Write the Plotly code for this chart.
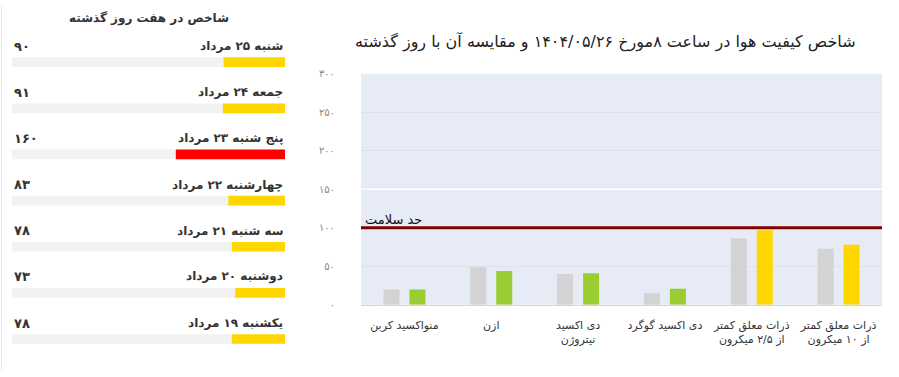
import plotly.graph_objects as go

W, H = 899, 377


def fa(n):
    """Write a number with Persian digits."""
    return str(n).translate(str.maketrans("0123456789", "۰۱۲۳۴۵۶۷۸۹"))


def aqi_color(v):
    if v <= 50:
        return "#9ACD32"
    if v <= 100:
        return "#FFD700"
    if v <= 150:
        return "#FF7E00"
    if v <= 200:
        return "#FF0000"
    return "#8F3F97"


# ---------------- data: main chart ----------------
chart_title = "شاخص کیفیت هوا در ساعت ۸مورخ ۱۴۰۴/۰۵/۲۶ و مقایسه آن با روز گذشته"
pollutants = [
    "منواکسید کربن",
    "ازن",
    "دی اکسید<br>نیتروژن",
    "دی اکسید گوگرد",
    "ذرات معلق کمتر<br>از ۲/۵ میکرون",
    "ذرات معلق کمتر<br>از ۱۰ میکرون",
]
yesterday_values = [20, 49, 40, 15, 86, 73]
today_values = [20, 44, 41, 21, 97, 78]
y_tick_values = [0, 50, 100, 150, 200, 250, 300]
HEALTH_LIMIT = 100
HEALTH_LABEL = "حد سلامت"
UNHEALTHY_LINE = 150

# ---------------- data: last seven days ----------------
week_title = "شاخص در هفت روز گذشته"
week_days = [
    "شنبه ۲۵ مرداد",
    "جمعه ۲۴ مرداد",
    "پنج شنبه ۲۳ مرداد",
    "چهارشنبه ۲۲ مرداد",
    "سه شنبه ۲۱ مرداد",
    "دوشنبه ۲۰ مرداد",
    "یکشنبه ۱۹ مرداد",
]
week_values = [90, 91, 160, 83, 78, 73, 78]
WEEK_MAX = 400

FONT = "DejaVu Sans"

# ---------------- layout geometry (pixels) ----------------
px = lambda x: x / W
py = lambda y: 1 - y / H

main_x0, main_x1 = 361, 882
main_y_top, main_y_bot = 70, 308.7
cat_px = (main_x1 - main_x0) / len(pollutants)
bar_w = 16 / cat_px
half_gap = 13 / cat_px

left_x0, left_x1 = 12, 285
row_top, row_bot = 34.2, 367.8
row_px = (row_bot - row_top) / len(week_days)
left_bar_w = 10 / row_px

fig = go.Figure()

# main chart bars
fig.add_trace(go.Bar(
    x=pollutants, y=yesterday_values, name="روز گذشته",
    marker=dict(color="#D3D3D3", line=dict(width=0)),
    width=bar_w, offset=-half_gap - bar_w / 2,
    xaxis="x", yaxis="y", hoverinfo="y",
))
fig.add_trace(go.Bar(
    x=pollutants, y=today_values, name="امروز",
    marker=dict(color=[aqi_color(v) for v in today_values], line=dict(width=0)),
    width=bar_w, offset=half_gap - bar_w / 2,
    xaxis="x", yaxis="y", hoverinfo="y",
))

# seven-day panel: track + value bars
fig.add_trace(go.Bar(
    y=week_days, x=[WEEK_MAX] * len(week_days), orientation="h",
    marker=dict(color="#F2F2F2", line=dict(width=0)),
    width=left_bar_w, offset=-left_bar_w / 2,
    xaxis="x2", yaxis="y2", hoverinfo="skip",
))
fig.add_trace(go.Bar(
    y=week_days, x=week_values, orientation="h",
    marker=dict(color=[aqi_color(v) for v in week_values], line=dict(width=0)),
    width=left_bar_w, offset=-left_bar_w / 2,
    xaxis="x2", yaxis="y2", hoverinfo="x",
))

annotations = [
    dict(text=chart_title, xref="paper", yref="paper", x=px(605), y=py(37),
         xanchor="center", yanchor="middle", showarrow=False,
         font=dict(family=FONT, size=16, color="#222")),
    dict(text=HEALTH_LABEL, xref="paper", yref="y", x=px(main_x0 + 2), y=HEALTH_LIMIT,
         xanchor="left", yanchor="bottom", yshift=-1, showarrow=False,
         font=dict(family=FONT, size=13, color="#111")),
    dict(text="<b>" + week_title + "</b>", xref="paper", yref="paper", x=px(148.5), y=py(13),
         xanchor="center", yanchor="middle", showarrow=False,
         font=dict(family=FONT, size=12, color="#333")),
]
for d, v in zip(week_days, week_values):
    annotations.append(dict(text="<b>" + d + "</b>", xref="paper", yref="y2", x=px(left_x1), y=d,
                            xanchor="right", yanchor="middle", yshift=16, showarrow=False,
                            font=dict(family=FONT, size=12, color="#333")))
    annotations.append(dict(text="<b>" + fa(v) + "</b>", xref="paper", yref="y2", x=px(left_x0), y=d,
                            xanchor="left", yanchor="middle", yshift=16, showarrow=False,
                            font=dict(family=FONT, size=13, color="#333")))

shapes = [
    # main plot background (only the main chart is tinted)
    dict(type="rect", xref="x domain", yref="y domain", x0=0, x1=1, y0=0, y1=1,
         fillcolor="#E6EBF5", line=dict(width=0), layer="below"),
    dict(type="line", xref="x domain", yref="y", x0=0, x1=1, y0=UNHEALTHY_LINE, y1=UNHEALTHY_LINE,
         line=dict(color="#FFFFFF", width=1.5), layer="above"),
    dict(type="line", xref="x domain", yref="y", x0=0, x1=1, y0=HEALTH_LIMIT, y1=HEALTH_LIMIT,
         line=dict(color="#800000", width=3), layer="above"),
    dict(type="line", xref="paper", yref="paper", x0=px(1.5), x1=px(1.5), y0=0, y1=1,
         line=dict(color="#EBEBEB", width=1), layer="above"),
]

fig.update_layout(
    width=W, height=H, autosize=False,
    margin=dict(l=0, r=0, t=0, b=0, pad=0),
    paper_bgcolor="white", plot_bgcolor="rgba(0,0,0,0)",
    showlegend=False, barmode="overlay",
    font=dict(family=FONT, size=11, color="#333"),
    annotations=annotations, shapes=shapes,
    xaxis=dict(
        domain=[px(main_x0), px(main_x1)], type="category",
        categoryorder="array", categoryarray=pollutants,
        range=[-0.5, len(pollutants) - 0.5],
        showgrid=False, zeroline=False,
        showline=True, linecolor="#CCD6EB", linewidth=1,
        ticks="", ticklabelstandoff=10,
        tickfont=dict(family=FONT, size=11, color="#333"),
        fixedrange=True,
    ),
    yaxis=dict(
        domain=[py(main_y_bot), py(main_y_top)], range=[0, 300],
        tickvals=y_tick_values, ticktext=[fa(v) for v in y_tick_values],
        showgrid=True, gridcolor="#DCE1EB", gridwidth=1,
        zeroline=False, showline=False, ticks="",
        ticklabelstandoff=25,
        tickfont=dict(family=FONT, size=10, color="#888"),
        fixedrange=True,
    ),
    xaxis2=dict(
        domain=[px(left_x0), px(left_x1)], range=[WEEK_MAX, 0],
        anchor="y2", showgrid=False, zeroline=False, showline=False,
        showticklabels=False, ticks="", fixedrange=True,
    ),
    yaxis2=dict(
        domain=[py(row_bot), py(row_top)], type="category",
        categoryorder="array", categoryarray=week_days,
        range=[len(week_days) - 0.5, -0.5],
        anchor="x2", showgrid=False, zeroline=False, showline=False,
        showticklabels=False, ticks="", fixedrange=True,
    ),
)

fig.write_html(
    "out.html",
    config={"displayModeBar": False},
    post_script="document.body.style.margin='0';document.body.style.overflow='hidden';",
)
